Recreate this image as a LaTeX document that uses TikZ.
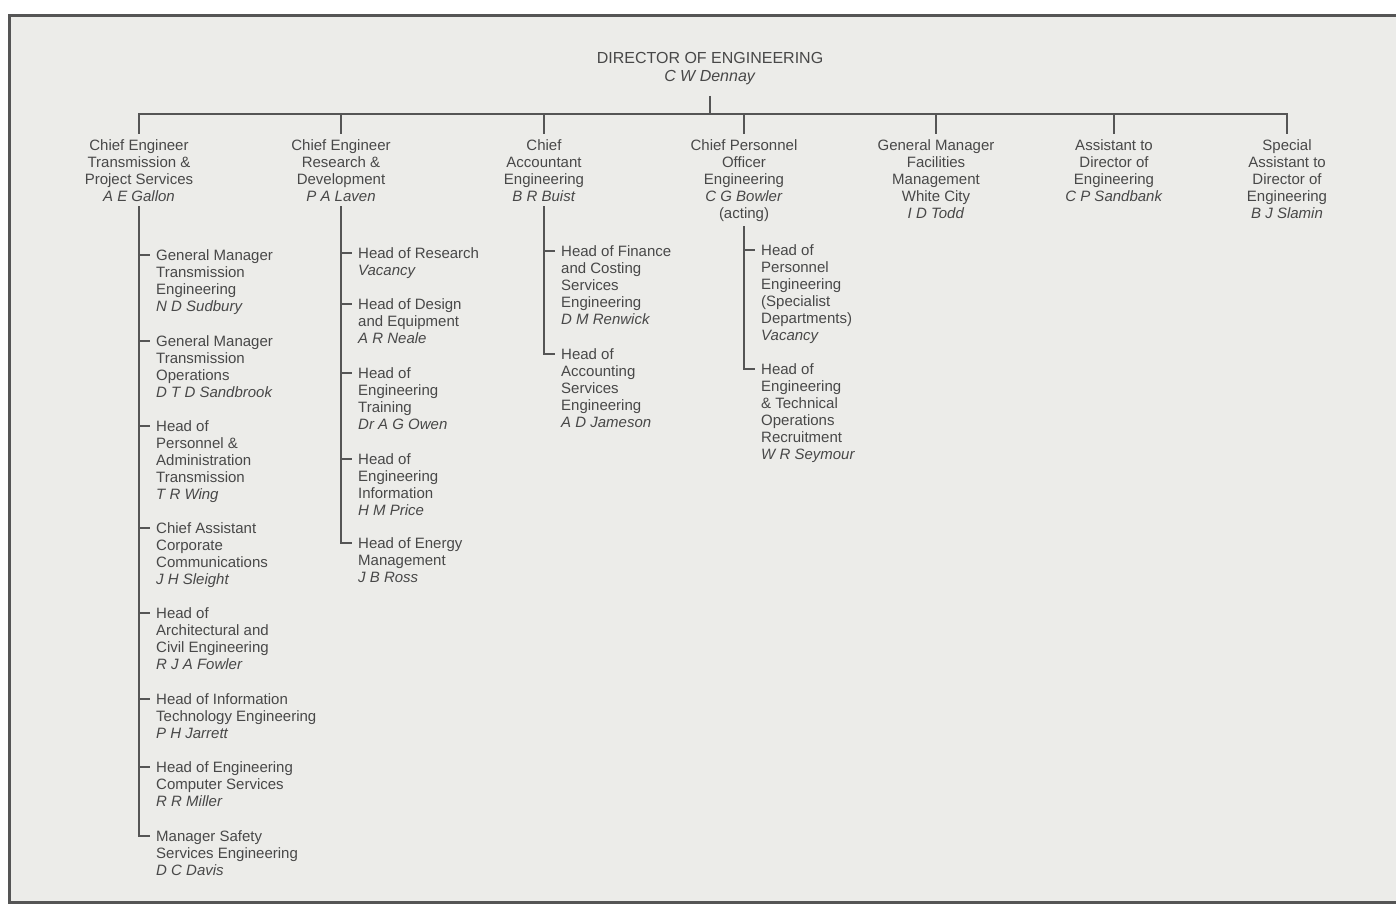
\documentclass[tikz,border=0pt]{standalone}
\usepackage{fontspec}
\setmainfont{Liberation Sans}
\definecolor{ink}{RGB}{72,72,72}
\definecolor{rule}{RGB}{85,85,85}
\definecolor{paper}{RGB}{236,236,233}

\begin{document}
\begin{tikzpicture}[
  x=1pt, y=-1pt,
  font=\fontsize{15}{17}\selectfont,
  head/.style={align=center, anchor=north, inner xsep=0pt, inner ysep=5pt, text=ink},
  post/.style={align=left, anchor=north west, inner xsep=6pt, inner ysep=0pt, text=ink},
  link/.style={draw=rule, line width=1.8pt}
]
\useasboundingbox (0,0) rectangle (1396,904);
\fill[paper] (9,16) rectangle (1396,902);
\draw[rule, line width=3pt] (1396,16) -- (9,16) -- (9,902) -- (1396,902);

% director and the bar below him
\node[head, inner ysep=0pt, font=\fontsize{16}{18}\selectfont] (dir) at (710,52)
  {DIRECTOR OF ENGINEERING\\\textit{C W Dennay}};
\coordinate (bar) at (710,114);
\draw[link, shorten <=11pt] (dir.south) -- (bar);

% reporting heads
\node[head] (cetp) at (139,134)
  {Chief Engineer\\Transmission \&\\Project Services\\\textit{A E Gallon}};
\node[head] (cerd) at (341,134)
  {Chief Engineer\\Research \&\\Development\\\textit{P A Laven}};
\node[head] (cae) at (544,134)
  {Chief\\Accountant\\Engineering\\\textit{B R Buist}};
\node[head] (cpo) at (744,134)
  {Chief Personnel\\Officer\\Engineering\\\textit{C G Bowler}\\(acting)};
\node[head] (gmfm) at (936,134)
  {General Manager\\Facilities\\Management\\White City\\\textit{I D Todd}};
\node[head] (adoe) at (1114,134)
  {Assistant to\\Director of\\Engineering\\\textit{C P Sandbank}};
\node[head] (sadoe) at (1287,134)
  {Special\\Assistant to\\Director of\\Engineering\\\textit{B J Slamin}};

\draw[link] (cetp.north) |- (bar);
\draw[link] (cerd.north) |- (bar);
\draw[link] (cae.north) |- (bar);
\draw[link] (cpo.north) |- (bar);
\draw[link] (gmfm.north) |- (bar);
\draw[link] (adoe.north) |- (bar);
\draw[link] (sadoe.north) |- (bar);

% transmission & project services
\node[post] (tpeng) at (150,249)
  {General Manager\\Transmission\\Engineering\\\textit{N D Sudbury}};
\node[post] (tpops) at (150,335)
  {General Manager\\Transmission\\Operations\\\textit{D T D Sandbrook}};
\node[post] (tppers) at (150,420)
  {Head of\\Personnel \&\\Administration\\Transmission\\\textit{T R Wing}};
\node[post] (tpcomm) at (150,522)
  {Chief Assistant\\Corporate\\Communications\\\textit{J H Sleight}};
\node[post] (tparch) at (150,607)
  {Head of\\Architectural and\\Civil Engineering\\\textit{R J A Fowler}};
\node[post] (tpit) at (150,693)
  {Head of Information\\Technology Engineering\\\textit{P H Jarrett}};
\node[post] (tpcomp) at (150,761)
  {Head of Engineering\\Computer Services\\\textit{R R Miller}};
\node[post] (tpsafe) at (150,830)
  {Manager Safety\\Services Engineering\\\textit{D C Davis}};

\draw[link] (cetp.south) |- ([yshift=-6pt]tpeng.north west);
\draw[link] (cetp.south) |- ([yshift=-6pt]tpops.north west);
\draw[link] (cetp.south) |- ([yshift=-6pt]tppers.north west);
\draw[link] (cetp.south) |- ([yshift=-6pt]tpcomm.north west);
\draw[link] (cetp.south) |- ([yshift=-6pt]tparch.north west);
\draw[link] (cetp.south) |- ([yshift=-6pt]tpit.north west);
\draw[link] (cetp.south) |- ([yshift=-6pt]tpcomp.north west);
\draw[link] (cetp.south) |- ([yshift=-6pt]tpsafe.north west);

% research & development
\node[post] (rdres) at (352,247)
  {Head of Research\\\textit{Vacancy}};
\node[post] (rddes) at (352,298)
  {Head of Design\\and Equipment\\\textit{A R Neale}};
\node[post] (rdtrain) at (352,367)
  {Head of\\Engineering\\Training\\\textit{Dr A G Owen}};
\node[post] (rdinfo) at (352,453)
  {Head of\\Engineering\\Information\\\textit{H M Price}};
\node[post] (rdenergy) at (352,537)
  {Head of Energy\\Management\\\textit{J B Ross}};

\draw[link] (cerd.south) |- ([yshift=-6pt]rdres.north west);
\draw[link] (cerd.south) |- ([yshift=-6pt]rddes.north west);
\draw[link] (cerd.south) |- ([yshift=-6pt]rdtrain.north west);
\draw[link] (cerd.south) |- ([yshift=-6pt]rdinfo.north west);
\draw[link] (cerd.south) |- ([yshift=-6pt]rdenergy.north west);

% accountant
\node[post] (cafin) at (555,245)
  {Head of Finance\\and Costing\\Services\\Engineering\\\textit{D M Renwick}};
\node[post] (caacc) at (555,348)
  {Head of\\Accounting\\Services\\Engineering\\\textit{A D Jameson}};

\draw[link] (cae.south) |- ([yshift=-6pt]cafin.north west);
\draw[link] (cae.south) |- ([yshift=-6pt]caacc.north west);

% personnel
\node[post] (cpspec) at (755,244)
  {Head of\\Personnel\\Engineering\\(Specialist\\Departments)\\\textit{Vacancy}};
\node[post] (cprecr) at (755,363)
  {Head of\\Engineering\\\& Technical\\Operations\\Recruitment\\\textit{W R Seymour}};

\draw[link] (cpo.south) |- ([yshift=-6pt]cpspec.north west);
\draw[link] (cpo.south) |- ([yshift=-6pt]cprecr.north west);

\end{tikzpicture}
\end{document}
